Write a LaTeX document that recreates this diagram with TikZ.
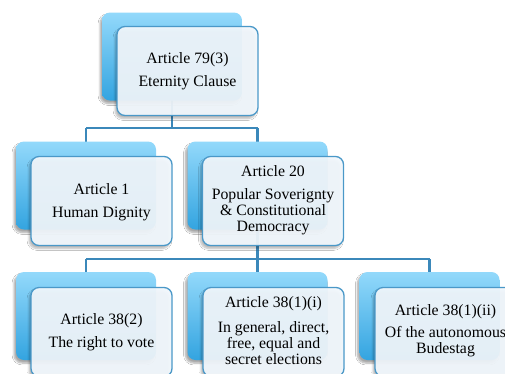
\documentclass[tikz,border=0pt]{standalone}
\usepackage{fontspec}
\setmainfont{Liberation Serif}
\usetikzlibrary{shadows.blur}
\definecolor{backtop}{HTML}{93D9FB}
\definecolor{backbot}{HTML}{33A4E0}
\definecolor{frontfill}{HTML}{F2F8FD}
\definecolor{edgeblue}{HTML}{4A98C8}
\definecolor{linkblue}{HTML}{3B88BA}
\tikzset{
  backbox/.style={rectangle, rounded corners=8pt, minimum width=140pt, minimum height=88pt,
    top color=backtop, bottom color=backbot, draw=none,
    blur shadow={shadow xshift=-2pt, shadow yshift=-3pt, shadow blur steps=6, shadow opacity=35}},
  frontbox/.style={rectangle, rounded corners=8pt, minimum width=141pt, minimum height=89pt,
    fill=frontfill, fill opacity=0.93, draw=edgeblue, line width=1.3pt,
    blur shadow={shadow xshift=-2pt, shadow yshift=-3pt, shadow blur steps=6, shadow opacity=30}},
  label/.style={align=center, font=\fontsize{15.8}{16}\selectfont, text=black, inner sep=0pt},
  link/.style={draw=linkblue, line width=2.2pt}
}
\begin{document}
\begin{tikzpicture}[x=1pt,y=-1pt]
\useasboundingbox (0,0) rectangle (505,373);
\fill[white] (0,0) rectangle (505,373);
% coordinates for connectors
\coordinate (j1) at (172,128);
\coordinate (j1l) at (86,128);
\coordinate (j1r) at (257.5,128);
\coordinate (j2) at (257.5,259);
\coordinate (j2l) at (86,259);
\coordinate (j2r) at (429.5,259);
\path (172,56.5) coordinate (b0c);
% connectors
\draw[link] (b0c) -- (j1);
\draw[link] (j1l) -- (j1r);
\draw[link] (j1l) -- (86,150);
\draw[link] (j1r) -- (257.5,150);
\draw[link] (257.5,190) -- (j2);
\draw[link] (j2l) -- (j2r);
\draw[link] (j2l) -- (86,280);
\draw[link] (j2) -- (257.5,280);
\draw[link] (j2r) -- (429.5,280);
% back boxes
\node[backbox] (b0) at (172,56.5) {};
\node[backbox] (b1) at (86,185.5) {};
\node[backbox] (b2) at (257.5,185.5) {};
\node[backbox] (b3) at (86,316) {};
\node[backbox] (b4) at (257.5,316) {};
\node[backbox] (b5) at (429.5,316) {};
% front boxes
\node[frontbox] (f0) at (187.5,71) {};
\node[frontbox] (f1) at (101.5,201) {};
\node[frontbox] (f2) at (273,201) {};
\node[frontbox] (f3) at (101.5,332) {};
\node[frontbox] (f4) at (273.5,332) {};
\node[frontbox] (f5) at (445.5,332) {};
% texts
\node[label] (t0) at (187.5,71) {Article 79(3)\\[7pt]Eternity Clause};
\node[label] (t1) at (101.5,202) {Article 1\\[7pt]Human Dignity};
\node[label] (t2) at (273,200) {Article 20\\[7pt]Popular Soverignty\\\& Constitutional\\Democracy};
\node[label] (t3) at (101.5,332) {Article 38(2)\\[7pt]The right to vote};
\node[label] (t4) at (273.5,330.5) {Article 38(1)(i)\\[9pt]In general, direct,\\free, equal and\\secret elections};
\node[label] (t5) at (445.5,330.5) {Article 38(1)(ii)\\[6pt]Of the autonomous\\Budestag};
\end{tikzpicture}
\end{document}
